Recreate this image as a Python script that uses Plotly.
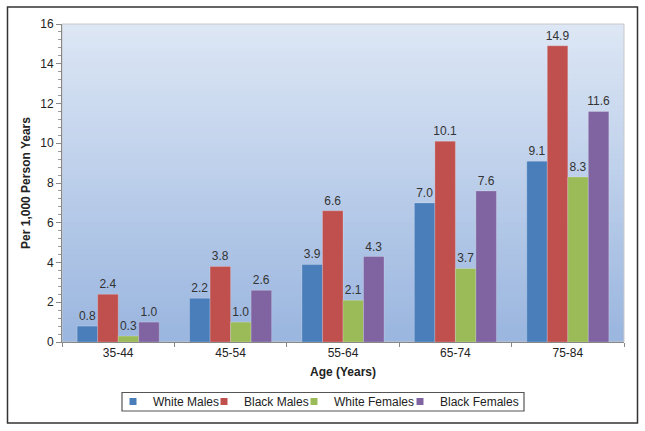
import plotly.graph_objects as go

categories = ["35-44", "45-54", "55-64", "65-74", "75-84"]
white_males = [0.8, 2.2, 3.9, 7.0, 9.1]
black_males = [2.4, 3.8, 6.6, 10.1, 14.9]
white_females = [0.3, 1.0, 2.1, 3.7, 8.3]
black_females = [1.0, 2.6, 4.3, 7.6, 11.6]

series = [
    ("White Males", white_males, "#4a7ebb"),
    ("Black Males", black_males, "#c0504d"),
    ("White Females", white_females, "#9bbb59"),
    ("Black Females", black_females, "#8064a2"),
]

L, R, T, B = 62, 21, 24, 89
W, H = 645, 431
pw, ph = W - L - R, H - T - B
def px(x): return (x - L) / pw
def py(y): return (H - B - y) / ph

fig = go.Figure()
for name, vals, color in series:
    fig.add_trace(go.Bar(
        name=name, x=categories, y=vals, showlegend=False,
        marker=dict(color=color, line=dict(color="rgba(255,255,255,0.35)", width=0.6)),
        text=[f"{v:.1f}" for v in vals], textposition="outside",
        textfont=dict(family="Liberation Sans, Arial", size=12, color="#333333"),
        cliponaxis=False,
    ))

# legend: one small legend per series, placed inside a common box
legend_text_left = [147, 238, 328, 434]
legend_ids = ["legend", "legend2", "legend3", "legend4"]
legend_layout = {}
for (name, vals, color), lid, xl in zip(series, legend_ids, legend_text_left):
    fig.add_trace(go.Scatter(
        name=name, x=[None], y=[None], mode="markers", legend=lid,
        marker=dict(symbol="square", size=7, color=color),
    ))
    legend_layout[lid] = dict(
        orientation="h", x=px(xl - 34), xanchor="left", y=py(401.5), yanchor="middle",
        borderwidth=0, bgcolor="rgba(0,0,0,0)", itemwidth=30,
        font=dict(size=12, color="#222222"),
    )

# gradient background for plot area
shapes = []
n = 60
top = (221, 231, 245)
bot = (155, 182, 223)
for i in range(n):
    t = i / (n - 1)
    c = tuple(round(top[k] + (bot[k] - top[k]) * t) for k in range(3))
    shapes.append(dict(type="rect", xref="x domain", yref="y domain",
                       x0=0, x1=1, y0=1 - (i + 1) / n, y1=min(1, 1 - i / n + 0.01),
                       fillcolor=f"rgb{c}", line=dict(width=0), layer="below"))
shapes.append(dict(type="rect", xref="x domain", yref="y domain", x0=0, x1=1, y0=0, y1=1,
                   line=dict(color="#c8c8c8", width=1), layer="below"))
# legend box
shapes.append(dict(type="rect", xref="paper", yref="paper",
                   x0=px(122), x1=px(524), y0=py(411), y1=py(392.5),
                   line=dict(color="#555555", width=1.2), fillcolor="white", layer="below"))
# outer frame
shapes.append(dict(type="rect", xref="paper", yref="paper",
                   x0=px(7.5), x1=px(637.5), y0=py(423), y1=py(7),
                   line=dict(color="#333333", width=1.5)))

fig.update_layout(
    width=W, height=H,
    margin=dict(l=L, r=R, t=T, b=B),
    barmode="group", bargap=0.27, bargroupgap=0,
    paper_bgcolor="white", plot_bgcolor="rgba(0,0,0,0)",
    font=dict(family="Liberation Sans, Arial", size=12, color="#222222"),
    shapes=shapes,
    showlegend=True,
    uniformtext=dict(minsize=12, mode="show"),
    xaxis=dict(title=dict(text="<b>Age (Years)</b>", font=dict(size=12), standoff=8),
               showline=True, linecolor="#888888", ticks="outside", ticklen=4,
               tickcolor="#888888", showgrid=False, tickson="boundaries",
               tickfont=dict(size=12)),
    yaxis=dict(title=dict(text="<b>Per 1,000 Person Years</b>", font=dict(size=12), standoff=7),
               range=[0, 16], dtick=2, showline=True, linecolor="#888888",
               ticks="outside", ticklen=5, tickcolor="#888888", showgrid=False,
               zeroline=False, tickfont=dict(size=12),
               minor=dict(dtick=0.4, ticks="outside", ticklen=3, tickcolor="#999999")),
    **legend_layout,
)

fig.write_html("out.html", post_script="document.body.style.margin='0';",
               config={"displayModeBar": False})
